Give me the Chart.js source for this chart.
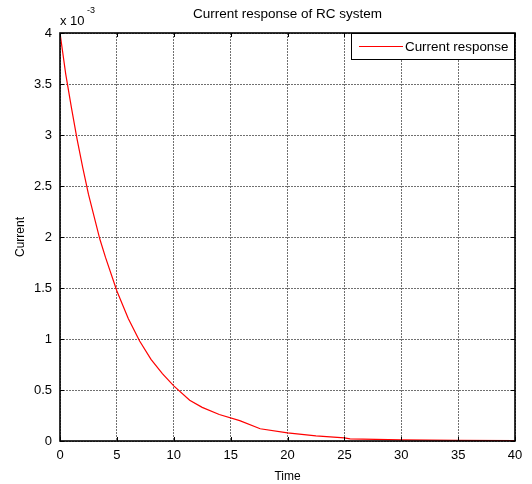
<!DOCTYPE html>
<html>
<head>
<meta charset="UTF-8">
<title>Current response of RC system</title>
<script src="https://cdn.jsdelivr.net/npm/chart.js"></script>
<style>
  body { margin: 0; background: #fff; }
  #wrap { width: 532px; height: 484px; }
</style>
</head>
<body>
<div id="wrap"><canvas id="rc" width="532" height="484"></canvas></div>
<script>
// values (current in units of 1e-3 A)
const timeVals = [0, 0.5, 1, 1.5, 2, 2.5, 3, 3.5, 4, 5, 6, 7, 8, 9, 10, 11.4, 12.5, 14, 15.8, 17.6, 20, 22.5, 25, 25.5, 30, 35, 40];
const currentMilli = [4.0, 3.6, 3.27, 2.96, 2.68, 2.42, 2.2, 1.98, 1.8, 1.47, 1.2, 0.98, 0.8, 0.66, 0.54, 0.40, 0.33, 0.26, 0.2, 0.12, 0.08, 0.05, 0.03, 0.02, 0.012, 0.006, 0.004];
const xTicks = [0, 5, 10, 15, 20, 25, 30, 35, 40];
const yTicks = [0, 0.5, 1, 1.5, 2, 2.5, 3, 3.5, 4];
const seriesName = 'Current response';

const FONT = 'Arial, "Liberation Sans", sans-serif';

// box, inward ticks, title, exponent and legend
const decor = {
  id: 'decor',
  afterDraw(chart) {
    const c = chart.ctx;
    const a = chart.chartArea;
    const xs = chart.scales.x, ys = chart.scales.y;
    c.save();
    c.strokeStyle = '#000';
    c.lineWidth = 1;
    c.beginPath();
    xTicks.forEach(t => {
      const px = Math.round(xs.getPixelForValue(t)) + 0.5;
      c.moveTo(px, a.bottom); c.lineTo(px, a.bottom - 4);
      c.moveTo(px, a.top); c.lineTo(px, a.top + 4);
    });
    yTicks.forEach(t => {
      const py = Math.round(ys.getPixelForValue(t)) + 0.5;
      c.moveTo(a.left, py); c.lineTo(a.left + 4, py);
      c.moveTo(a.right, py); c.lineTo(a.right - 4, py);
    });
    c.stroke();
    c.lineWidth = 1.6;
    c.strokeRect(a.left, a.top, a.right - a.left, a.bottom - a.top);

    // title
    c.fillStyle = '#000';
    c.font = '13.5px ' + FONT;
    c.textAlign = 'center';
    c.textBaseline = 'middle';
    c.fillText('Current response of RC system', (a.left + a.right) / 2, 14);

    // exponent
    c.textAlign = 'left';
    c.font = '13px ' + FONT;
    c.fillText('x 10', a.left, 21);
    c.font = '9px ' + FONT;
    c.fillText('-3', a.left + 27, 11);

    // legend
    const lx = 351, ly = a.top, lw = a.right - 351, lh = 27;
    c.fillStyle = '#fff';
    c.fillRect(lx, ly, lw, lh);
    c.lineWidth = 1;
    c.strokeStyle = '#000';
    c.strokeRect(lx + 0.5, ly + 0.5, lw - 1, lh - 1);
    c.strokeStyle = '#ff0000';
    c.beginPath();
    c.moveTo(359, ly + 13.5); c.lineTo(403, ly + 13.5);
    c.stroke();
    c.fillStyle = '#000';
    c.font = '13.4px ' + FONT;
    c.textBaseline = 'middle';
    c.fillText(seriesName, 405, ly + 14);
    c.restore();
  }
};

new Chart(document.getElementById('rc'), {
  type: 'line',
  data: {
    datasets: [{
      label: seriesName,
      data: timeVals.map((t, i) => ({ x: t, y: currentMilli[i] })),
      borderColor: '#ff0000',
      borderWidth: 1.2,
      pointRadius: 0,
      tension: 0,
      fill: false
    }]
  },
  options: {
    responsive: false,
    animation: false,
    layout: { padding: { top: 33, right: 17, left: 0, bottom: 0 } },
    plugins: { legend: { display: false }, title: { display: false }, tooltip: { enabled: false } },
    scales: {
      x: {
        type: 'linear', min: 0, max: 40,
        afterBuildTicks: s => { s.ticks = xTicks.map(v => ({ value: v })); },
        afterFit: s => { s.height = 43; },
        grid: { color: '#707070', drawTicks: false },
        border: { display: false, dash: [2, 1] },
        ticks: { color: '#000', padding: 7, font: { family: FONT, size: 13 } },
        title: { display: true, text: 'Time', color: '#000', padding: { top: 0, bottom: 0 }, font: { family: FONT, size: 12 } }
      },
      y: {
        type: 'linear', min: 0, max: 4,
        afterBuildTicks: s => { s.ticks = yTicks.map(v => ({ value: v })); },
        afterFit: s => { s.width = 60; },
        grid: { color: '#707070', drawTicks: false },
        border: { display: false, dash: [2, 1] },
        ticks: { color: '#000', padding: 8, font: { family: FONT, size: 13 }, callback: v => String(v) },
        title: { display: true, text: 'Current', color: '#000', padding: { top: 13, bottom: 0 }, font: { family: FONT, size: 12 } }
      }
    }
  },
  plugins: [decor]
});
</script>
</body>
</html>
